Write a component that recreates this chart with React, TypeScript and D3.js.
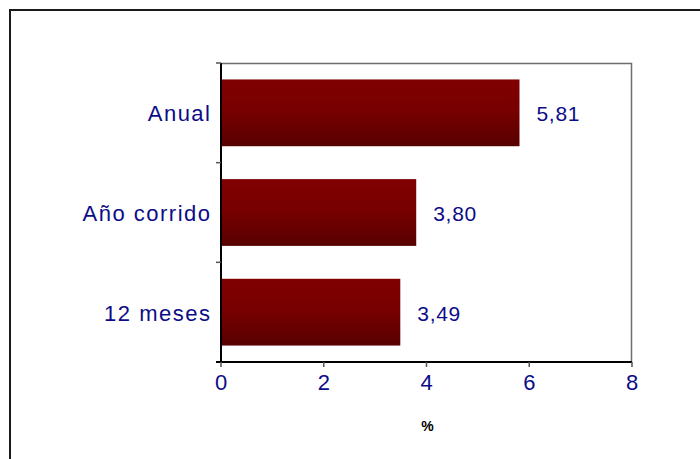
import React from "react";
import * as d3 from "d3";

const categories = ["Anual", "Año corrido", "12 meses"];
const values = [5.81, 3.8, 3.49];
const xTicks = [0, 2, 4, 6, 8];
const axisTitle = "%";

const W = 700;
const H = 459;
const M = { left: 221, right: 632, top: 63, bottom: 362 };

export default function App() {
  const x = d3.scaleLinear().domain([0, 8]).range([M.left, M.right]);
  const y = d3
    .scaleBand<string>()
    .domain(categories)
    .range([M.top, M.bottom])
    .paddingInner(0.33)
    .paddingOuter(0.165);
  const boundaries = d3.range(categories.length + 1).map((i) => M.top + i * ((M.bottom - M.top) / categories.length));
  const fmt = (v: number) => v.toFixed(2).replace(".", ",");
  const font = "'Liberation Sans', Arial, sans-serif";
  const blue = "#0c0c88";

  return (
    <svg
      width={W}
      height={H}
      style={{ position: "fixed", left: 0, top: 0, background: "#fff" }}
    >
      <defs>
        <linearGradient id="barGrad" x1="0" y1="0" x2="0" y2="1">
          <stop offset="0" stopColor="#800000" />
          <stop offset="0.45" stopColor="#780000" />
          <stop offset="1" stopColor="#580000" />
        </linearGradient>
      </defs>
      <rect x={0} y={0} width={W} height={H} fill="#fff" />
      {/* outer frame */}
      <path d={`M10,${H + 5} V10 H${W + 5}`} fill="none" stroke="#1a1a1a" strokeWidth={2} />

      {/* plot border top/right */}
      <path
        d={`M${M.left},${M.top + 0.5} H${M.right - 0.5} V${M.bottom}`}
        fill="none"
        stroke="#6e6e6e"
        strokeWidth={1.5}
      />

      {/* bars */}
      {categories.map((c, i) => (
        <rect
          key={c}
          x={x(0)}
          y={y(c)!}
          width={x(values[i]) - x(0)}
          height={y.bandwidth()}
          fill="url(#barGrad)"
        />
      ))}

      {/* y axis */}
      <line x1={M.left} x2={M.left} y1={M.top} y2={M.bottom} stroke="#000" strokeWidth={2} />
      {boundaries.map((b, i) => (
        <line key={i} x1={M.left - 5} x2={M.left} y1={b} y2={b} stroke="#555" strokeWidth={1.5} />
      ))}

      {/* x axis */}
      <line x1={M.left - 5} x2={M.right} y1={M.bottom} y2={M.bottom} stroke="#000" strokeWidth={2} />
      {xTicks.map((t) => (
        <line key={t} x1={x(t)} x2={x(t)} y1={M.bottom} y2={M.bottom + 5} stroke="#555" strokeWidth={1.5} />
      ))}
      {xTicks.map((t) => (
        <text
          key={"l" + t}
          x={x(t)}
          y={M.bottom + 28}
          textAnchor="middle"
          fontFamily={font}
          fontSize={22}
          fill={blue}
        >
          {t}
        </text>
      ))}
      <text
        x={(M.left + M.right) / 2 + 1}
        y={431}
        textAnchor="middle"
        fontFamily={font}
        fontSize={14}
        fontWeight="bold"
        fill="#000"
      >
        {axisTitle}
      </text>

      {/* category labels */}
      {categories.map((c) => (
        <text
          key={"c" + c}
          x={211.5}
          y={y(c)! + y.bandwidth() / 2 + 8.5}
          textAnchor="end"
          fontFamily={font}
          fontSize={22}
          letterSpacing={1.5}
          fill={blue}
        >
          {c}
        </text>
      ))}

      {/* value labels */}
      {categories.map((c, i) => (
        <text
          key={"v" + c}
          x={x(values[i]) + 17}
          y={y(c)! + y.bandwidth() / 2 + 8.5}
          fontFamily={font}
          fontSize={21}
          letterSpacing={0.7}
          fill={blue}
        >
          {fmt(values[i])}
        </text>
      ))}
    </svg>
  );
}
